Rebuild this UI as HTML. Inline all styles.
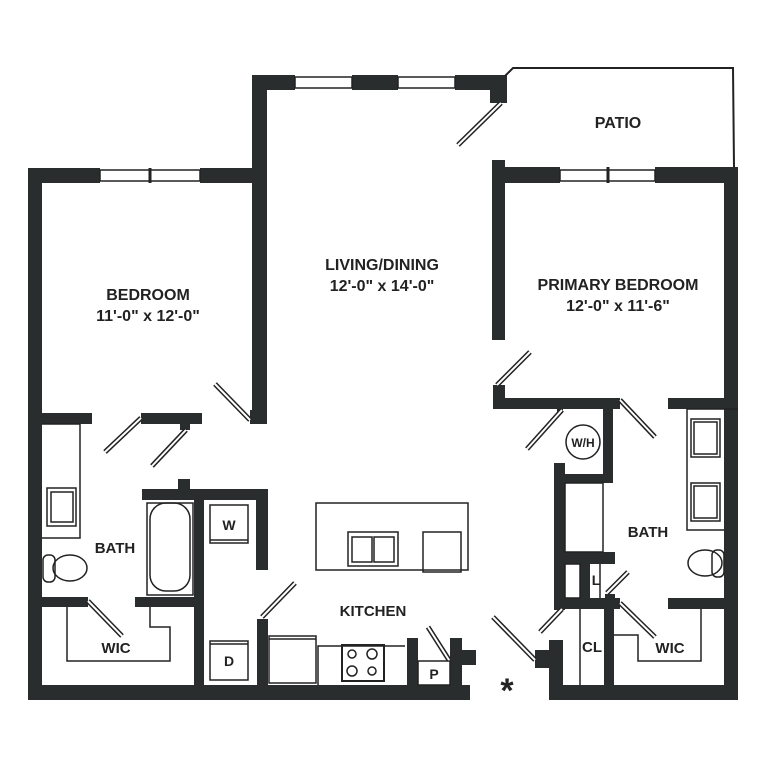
<!DOCTYPE html>
<html><head><meta charset="utf-8"><style>
html,body{margin:0;padding:0;background:#fff}
svg{display:block}
text{font-family:"Liberation Sans",sans-serif;fill:#222;font-weight:bold}
</style></head><body>
<svg width="768" height="768" viewBox="0 0 768 768" xmlns="http://www.w3.org/2000/svg">
<rect width="768" height="768" fill="#fff"/>
<g fill="#2a2d2d">
<rect x="28" y="168" width="14" height="532"/>
<rect x="28" y="168" width="72" height="15"/>
<rect x="200" y="168" width="67" height="15"/>
<rect x="252" y="75" width="15" height="347"/>
<rect x="250" y="410" width="17" height="14"/>
<rect x="252" y="75" width="43" height="15"/>
<rect x="352" y="75" width="46" height="15"/>
<rect x="455" y="75" width="52" height="15"/>
<rect x="490" y="75" width="17" height="28"/>
<rect x="492" y="160" width="13" height="180"/>
<rect x="492" y="167" width="68" height="16"/>
<rect x="655" y="167" width="83" height="16"/>
<rect x="724" y="167" width="14" height="533"/>
<rect x="493" y="385" width="12" height="24"/>
<rect x="493" y="398" width="127" height="11"/>
<rect x="668" y="398" width="70" height="11"/>
<rect x="557" y="409" width="6" height="4"/>
<rect x="603" y="398" width="10" height="84"/>
<rect x="554" y="463" width="11" height="147"/>
<rect x="554" y="474" width="59" height="9"/>
<rect x="554" y="552" width="61" height="12"/>
<rect x="580" y="564" width="10" height="36"/>
<rect x="554" y="598" width="66" height="11"/>
<rect x="605" y="594" width="10" height="6"/>
<rect x="668" y="598" width="70" height="11"/>
<rect x="604" y="598" width="10" height="92"/>
<rect x="549" y="685" width="189" height="15"/>
<rect x="549" y="640" width="14" height="60"/>
<rect x="535" y="650" width="28" height="18"/>
<rect x="28" y="413" width="64" height="11"/>
<rect x="141" y="413" width="61" height="11"/>
<rect x="180" y="424" width="10" height="6"/>
<rect x="142" y="489" width="126" height="11"/>
<rect x="178" y="479" width="12" height="10"/>
<rect x="194" y="489" width="10" height="201"/>
<rect x="256" y="489" width="12" height="81"/>
<rect x="135" y="597" width="67" height="10"/>
<rect x="28" y="597" width="60" height="10"/>
<rect x="28" y="685" width="442" height="15"/>
<rect x="257" y="619" width="11" height="71"/>
<rect x="407" y="638" width="11" height="52"/>
<rect x="450" y="638" width="12" height="52"/>
<rect x="450" y="650" width="26" height="15"/>
</g>
<g fill="none" stroke="#222" stroke-width="1.5">
<rect x="100" y="170" width="100" height="11"/>
<line x1="150" y1="168" x2="150" y2="183" stroke-width="3"/>
<rect x="295" y="77" width="57" height="11"/>
<rect x="398" y="77" width="57" height="11"/>
<rect x="560" y="170" width="95" height="11"/>
<line x1="608" y1="167" x2="608" y2="183" stroke-width="3"/>
<polyline points="505,76 513,68 733,68 734,167" stroke-width="2"/>
<polyline points="42,424 80,424 80,538 42,538"/>
<rect x="47" y="488" width="29" height="38"/><rect x="51" y="492" width="22" height="30"/>
<ellipse cx="70" cy="568" rx="17" ry="13"/>
<rect x="43" y="555" width="12" height="27" rx="5"/>
<rect x="147" y="503" width="46" height="92"/>
<rect x="150" y="503" width="40" height="88" rx="16"/>
<polyline points="67,607 67,661 170,661 170,627 150,627 150,607"/>
<rect x="210" y="505" width="38" height="38"/><line x1="210" y1="540" x2="248" y2="540"/>
<rect x="210" y="641" width="38" height="39"/><line x1="210" y1="644" x2="248" y2="644"/>
<rect x="316" y="503" width="152" height="67"/>
<rect x="348" y="532" width="50" height="34"/>
<rect x="352" y="537" width="20" height="25"/><rect x="374" y="537" width="20" height="25"/>
<rect x="423" y="532" width="38" height="40"/>
<rect x="269" y="636" width="47" height="47"/><line x1="269" y1="639" x2="316" y2="639"/>
<polyline points="318,685 318,646 405,646"/>
<rect x="342" y="645" width="42" height="36" stroke-width="2"/>
<circle cx="352" cy="654" r="4"/><circle cx="372" cy="654" r="5"/><circle cx="352" cy="671" r="5"/><circle cx="372" cy="671" r="4"/>
<rect x="418" y="661" width="32" height="24"/>
<circle cx="583" cy="442" r="17"/>
<rect x="565" y="483" width="38" height="69"/>
<polyline points="738,409 687,409 687,530 724,530"/>
<rect x="691" y="419" width="29" height="38"/><rect x="694" y="422" width="23" height="32"/>
<rect x="691" y="483" width="29" height="38"/><rect x="694" y="486" width="23" height="32"/>
<ellipse cx="705" cy="563" rx="17" ry="13"/>
<rect x="712" y="550" width="12" height="27" rx="5"/>
<rect x="565" y="564" width="15" height="34"/>
<line x1="600" y1="564" x2="600" y2="598"/>
<line x1="580" y1="609" x2="580" y2="685"/>
<polyline points="614,635 638,635 638,661 701,661 701,609"/>
</g>
<g stroke-linecap="butt">
<g stroke="#222" stroke-width="5">
<line x1="501" y1="103" x2="458" y2="145"/>
<line x1="250" y1="420" x2="215" y2="384"/>
<line x1="141" y1="418" x2="105" y2="452"/>
<line x1="186" y1="430" x2="152" y2="466"/>
<line x1="88" y1="601" x2="122" y2="636"/>
<line x1="262" y1="617" x2="295" y2="583"/>
<line x1="449" y1="660" x2="428" y2="627"/>
<line x1="535" y1="660" x2="493" y2="617"/>
<line x1="497" y1="385" x2="530" y2="352"/>
<line x1="562" y1="410" x2="527" y2="449"/>
<line x1="620" y1="400" x2="655" y2="437"/>
<line x1="607" y1="593" x2="628" y2="572"/>
<line x1="620" y1="603" x2="655" y2="637"/>
<line x1="562" y1="609" x2="540" y2="632"/>
</g>
<g stroke="#fff" stroke-width="2">
<line x1="501" y1="103" x2="458" y2="145"/>
<line x1="250" y1="420" x2="215" y2="384"/>
<line x1="141" y1="418" x2="105" y2="452"/>
<line x1="186" y1="430" x2="152" y2="466"/>
<line x1="88" y1="601" x2="122" y2="636"/>
<line x1="262" y1="617" x2="295" y2="583"/>
<line x1="449" y1="660" x2="428" y2="627"/>
<line x1="535" y1="660" x2="493" y2="617"/>
<line x1="497" y1="385" x2="530" y2="352"/>
<line x1="562" y1="410" x2="527" y2="449"/>
<line x1="620" y1="400" x2="655" y2="437"/>
<line x1="607" y1="593" x2="628" y2="572"/>
<line x1="620" y1="603" x2="655" y2="637"/>
<line x1="562" y1="609" x2="540" y2="632"/>
</g>
</g>
<g font-size="16" text-anchor="middle">
<text x="618" y="128">PATIO</text>
<text x="148" y="300">BEDROOM</text>
<text x="148" y="321" font-weight="normal">11'-0" x 12'-0"</text>
<text x="382" y="270">LIVING/DINING</text>
<text x="382" y="291" font-weight="normal">12'-0" x 14'-0"</text>
<text x="618" y="290">PRIMARY BEDROOM</text>
<text x="618" y="311" font-weight="normal">12'-0" x 11'-6"</text>
<text x="115" y="553" font-size="15">BATH</text>
<text x="116" y="653" font-size="15">WIC</text>
<text x="229" y="530" font-size="14">W</text>
<text x="229" y="666" font-size="14">D</text>
<text x="373" y="616" font-size="15">KITCHEN</text>
<text x="434" y="679" font-size="14">P</text>
<text x="583" y="447" font-size="12">W/H</text>
<text x="648" y="537" font-size="15">BATH</text>
<text x="596" y="585" font-size="14">L</text>
<text x="592" y="652" font-size="15">CL</text>
<text x="670" y="653" font-size="15">WIC</text>
<text x="507" y="702" font-size="34">*</text>
</g>
</svg>
</body></html>
